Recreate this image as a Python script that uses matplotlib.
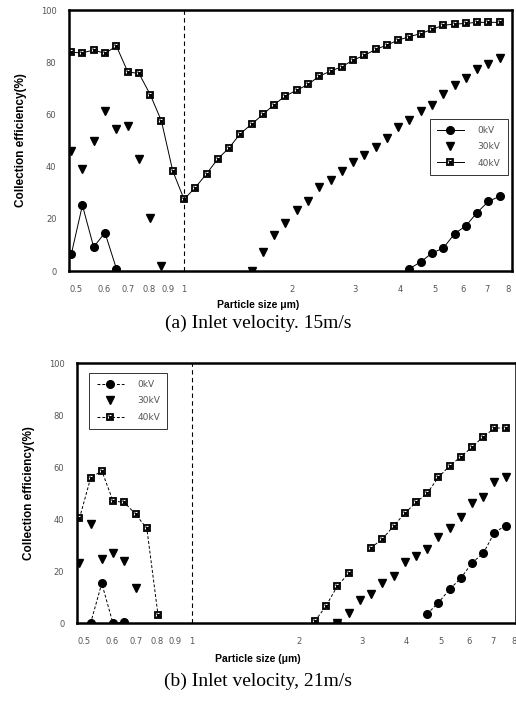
import numpy as np
import matplotlib
matplotlib.use("Agg")
import matplotlib.pyplot as plt
from matplotlib.ticker import FixedLocator, NullLocator

nan = np.nan

# particle size channels (um)
size_um = [0.485, 0.521, 0.560, 0.602, 0.648, 0.697, 0.749, 0.805, 0.865, 0.930,
           1.0, 1.075, 1.156, 1.242, 1.335, 1.436, 1.543, 1.659, 1.783, 1.917,
           2.061, 2.216, 2.382, 2.560, 2.752, 2.959, 3.181, 3.419, 3.676, 3.952,
           4.248, 4.567, 4.909, 5.278, 5.673, 6.099, 6.556, 7.048, 7.577]

# (a) inlet velocity 15 m/s
a_0kv = [6.4, 25.2, 9.2, 14.7, 0.9] + [nan] * 25 + \
        [0.9, 3.5, 6.9, 8.8, 14.3, 17.3, 22.4, 26.7, 28.6]
a_30kv = [46.0, 39.0, 49.9, 61.4, 54.6, 55.6, 43.1, 20.5, 1.9] + [nan] * 7 + [0.0] + \
         [7.3, 13.7, 18.5, 23.5, 26.7, 32.2, 34.8, 38.4, 41.6, 44.4, 47.6,
          50.8, 55.2, 57.8, 61.3, 63.8, 68.0, 71.2, 74.0, 77.6, 79.5, 81.5]
a_40kv = [83.8, 83.6, 84.7, 83.4, 86.2, 76.3, 75.7, 67.6, 57.5, 38.4, 27.5,
          32.0, 37.3, 43.0, 47.2, 52.7, 56.3,
          60.0, 63.8, 67.1, 69.3, 71.5, 74.7, 76.6, 78.3, 80.8, 82.7, 84.9,
          86.6, 88.5, 89.8, 91.0, 92.6, 94.2, 94.6, 94.9, 95.3, 95.3, 95.3]

# (b) inlet velocity 21 m/s
b_0kv = [nan, 0.0, 15.4, 0.0, 0.5] + [nan] * 18 + [0.0] + [nan] * 7 + \
        [3.6, 7.9, 13.1, 17.3, 23.3, 26.9, 34.9, 37.6]
b_30kv = [23.3, 38.1, 24.6, 27.2, 24.0, 13.5] + [nan] * 17 + [0.0] + \
         [3.8, 9.0, 11.3, 15.4, 18.2, 23.7, 25.9, 28.6, 33.3, 36.8, 40.8,
          46.2, 48.7, 54.5, 56.4]
b_40kv = [40.4, 55.8, 58.7, 47.1, 46.5, 41.9, 36.5, 3.2] + [nan] * 13 + \
         [0.9, 6.8, 14.4, 19.2, nan,
          29.1, 32.4, 37.4, 42.3, 46.5, 50.0, 56.2, 60.5, 64.1, 67.7, 71.8, 75.0, 75.3]

xticks = [0.5, 0.6, 0.7, 0.8, 0.9, 1, 2, 3, 4, 5, 6, 7, 8]
xtick_labels = ["0.5", "0.6", "0.7", "0.8", "0.9", "1", "2", "3", "4", "5", "6", "7", "8"]
yticks = [0, 20, 40, 60, 80, 100]
labels = ["0kV", "30kV", "40kV"]

panels = [
    ("a", [0.1337, 0.615, 0.8585, 0.3707], (0.478, 8.2), a_0kv, a_30kv, a_40kv,
     "-", (0.804, 0.60), "Particle size \u03bcm)", "(a) Inlet velocity. 15m/s", 0.567, 0.540),
    ("b", [0.149, 0.1146, 0.851, 0.3693], (0.477, 8.1), b_0kv, b_30kv, b_40kv,
     (0, (3, 2)), (0.018, 0.98), "Particle size (\u03bcm)", "(b) Inlet velocity, 21m/s", 0.064, 0.032),
]

fig = plt.figure(figsize=(5.16, 7.04), dpi=100)
grey = "#555555"

for name, rect, xlim, s0, s30, s40, ls, leg_pos, xlab, caption, xlab_y, cap_y in panels:
    ax = fig.add_axes(rect)
    ax.set_xscale("log")
    ax.set_xlim(*xlim)
    ax.set_ylim(0, 100)

    l0, = ax.plot(size_um, s0, color="black", lw=0.7, ls=ls, marker="o",
                  ms=5.5, mfc="black", mec="black")
    l30, = ax.plot(size_um, s30, ls="none", marker="v", ms=6,
                   mfc="black", mec="black")
    l40, = ax.plot(size_um, s40, color="black", lw=0.7, ls=ls, marker="s",
                   ms=5, mfc="white", mec="black", mew=1.3)
    l40x, = ax.plot(size_um, s40, ls="none", marker="x", ms=2.4,
                    mec="black", mew=1.0)

    ax.axvline(1, color="black", lw=0.8, ls=(0, (4, 3)))

    ax.xaxis.set_major_locator(FixedLocator(xticks))
    ax.xaxis.set_minor_locator(NullLocator())
    ax.set_xticklabels(xtick_labels)
    ax.set_yticks(yticks)
    ax.tick_params(axis="both", length=0, labelsize=6, labelcolor=grey)
    ax.tick_params(axis="x", pad=10)
    ax.tick_params(axis="y", pad=9)
    for sp in ax.spines.values():
        sp.set_linewidth(1.8)

    ax.set_ylabel("Collection efficiency(%)", fontsize=8.5, fontweight="bold",
                  family="Liberation Sans", labelpad=10)

    leg = ax.legend([l0, l30, (l40, l40x)], labels, loc="upper left",
                    bbox_to_anchor=leg_pos, fontsize=6.5, frameon=True,
                    fancybox=False, edgecolor="black", handlelength=3.0,
                    handletextpad=1.5, labelspacing=0.8, borderpad=0.8,
                    numpoints=1)
    leg.get_frame().set_linewidth(0.7)
    for t in leg.get_texts():
        t.set_color(grey)

    fig.text(0.5, xlab_y, xlab, ha="center", va="center", fontsize=7.5,
             fontweight="bold", family="Liberation Sans")
    fig.text(0.5, cap_y, caption, ha="center", va="center", fontsize=14,
             family="Liberation Serif")

fig.savefig("out.png", dpi=100)
